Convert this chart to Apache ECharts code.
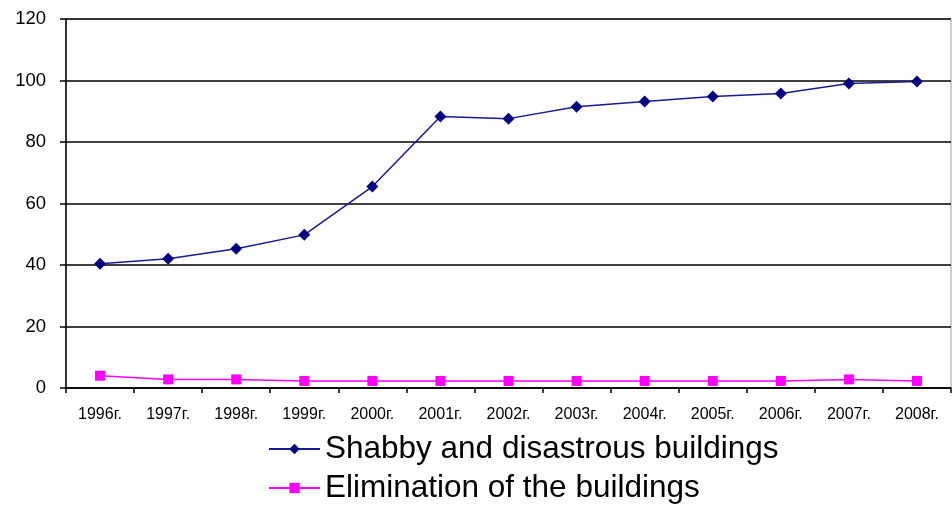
<!DOCTYPE html>
<html>
<head>
<meta charset="utf-8">
<script src="https://cdn.jsdelivr.net/npm/echarts@6/dist/echarts.min.js"></script>
<style>
  html, body { margin: 0; padding: 0; background: #fff; }
  #chart { width: 952px; height: 507px; }
</style>
</head>
<body>
<div id="chart"></div>
<script>
const years = ['1996г.', '1997г.', '1998г.', '1999г.', '2000г.', '2001г.', '2002г.',
               '2003г.', '2004г.', '2005г.', '2006г.', '2007г.', '2008г.'];
const shabby = [40.4, 42, 45.3, 49.8, 65.5, 88.3, 87.6, 91.5, 93.2, 94.8, 95.8, 99, 99.7];
const elimination = [4, 2.8, 2.8, 2.3, 2.3, 2.3, 2.3, 2.3, 2.3, 2.3, 2.3, 2.8, 2.3];
const yTicks = { min: 0, max: 120, interval: 20 };

const chart = echarts.init(document.getElementById('chart'));

chart.setOption({
    animation: false,
    backgroundColor: '#fff',
    grid: { left: 66, top: 19, right: 1, bottom: 119, show: true, borderColor: '#a0a0a0', borderWidth: 1 },
    legend: {
        orient: 'vertical',
        left: 268,
        top: 433,
        padding: 0,
        itemWidth: 51,
        itemHeight: 13,
        itemGap: 7,
        textStyle: { fontFamily: 'Liberation Sans', fontSize: 31.5, color: '#000' },
        data: ['Shabby and disastrous buildings', 'Elimination of the buildings']
    },
    xAxis: {
        type: 'category',
        data: years,
        boundaryGap: true,
        axisLine: { lineStyle: { color: '#000', width: 1.5 } },
        axisTick: { show: true, length: 5, lineStyle: { color: '#000', width: 1.5 } },
        axisLabel: { fontFamily: 'Liberation Sans', fontSize: 16, color: '#000', margin: 19, interval: 0 },
        splitLine: { show: false }
    },
    yAxis: {
        type: 'value',
        min: yTicks.min,
        max: yTicks.max,
        interval: yTicks.interval,
        axisLine: { show: true, lineStyle: { color: '#000', width: 1.5 } },
        axisTick: { show: true, length: 6, lineStyle: { color: '#000', width: 1.5 } },
        axisLabel: { fontFamily: 'Liberation Sans', fontSize: 18.5, color: '#000', margin: 20 },
        splitLine: { show: true, lineStyle: { color: '#000', width: 1.5 } }
    },
    series: [
        {
            name: 'Shabby and disastrous buildings',
            type: 'line',
            data: shabby,
            symbol: 'diamond',
            symbolSize: 12,
            itemStyle: { color: '#000080' },
            lineStyle: { color: '#1a1a90', width: 1.5 }
        },
        {
            name: 'Elimination of the buildings',
            type: 'line',
            data: elimination,
            symbol: 'rect',
            symbolSize: 10,
            itemStyle: { color: '#ff00ff' },
            lineStyle: { color: '#ff00ff', width: 1.5 }
        }
    ]
});
</script>
</body>
</html>
